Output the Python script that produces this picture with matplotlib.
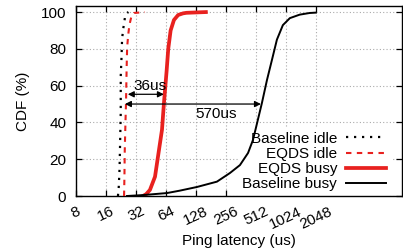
import matplotlib
matplotlib.use("Agg")
import matplotlib.pyplot as plt
from matplotlib.lines import Line2D

plt.rcParams['font.family'] = ['Liberation Sans', 'DejaVu Sans']

# ---- data ----
base_idle_x = [21.1, 21.5, 21.9, 22.2, 22.5, 22.5, 22.9, 23.2, 23.7, 24.8, 26.0, 26.9]
base_idle_y = [0, 5, 15, 30, 45, 65, 75, 85, 90, 97, 99.5, 100]

eqds_idle_x = [24.3, 24.5, 24.7, 25.1, 25.4, 25.8, 26.1, 26.8, 27.5, 28.9, 30.6, 39.4]
eqds_idle_y = [0, 10, 25, 40, 50, 70, 81, 88, 93, 98, 99.5, 100]

eqds_busy_x = [37.6, 40.5, 44.2, 49.7, 53.1, 58.4, 61.1, 65.0, 67.5, 71.3, 77.0, 84.8, 95.0, 103.0, 161.0]
eqds_busy_y = [0, 1, 3.3, 10.5, 21, 36, 50.5, 68, 80, 90, 95.7, 98.4, 99.3, 99.6, 100]

base_busy_x = [26.0, 37.6, 65.5, 88, 131, 208, 281, 354, 427, 478, 512, 588, 661, 742, 832, 955, 1122, 1409, 1774, 2048]
base_busy_y = [0, 0.5, 1.6, 2.9, 4.9, 7.8, 12.5, 16.8, 23.4, 30.4, 37, 50.5, 63, 74, 85, 92.9, 96.7, 98.6, 99.5, 99.7]

xticks = [8, 16, 32, 64, 128, 256, 512, 1024, 2048]
xticklabels = ['8', '16', '32', '64', '128', '256', '512', '1024', '2048']
yticks = [0, 20, 40, 60, 80, 100]

labels = ['Baseline idle', 'EQDS idle', 'EQDS busy', 'Baseline busy']
RED = '#e8211f'
FS = 11

fig = plt.figure(figsize=(4.03, 2.5), dpi=100)
ax = fig.add_axes([76/403, 1-196/250, 326/403, 190/250])

ax.set_xscale('log', base=2)
ax.set_xlim(8, 15000)
ax.set_ylim(0, 103.3)

l1, = ax.plot(base_idle_x, base_idle_y, color='black', lw=1.6, linestyle=(0, (1.0, 2.6)), zorder=3)
l2, = ax.plot(eqds_idle_x, eqds_idle_y, color=RED, lw=1.5, linestyle=(0, (2.6, 2.6)), zorder=3)
l3, = ax.plot(eqds_busy_x, eqds_busy_y, color=RED, lw=2.7, zorder=3)
l4, = ax.plot(base_busy_x, base_busy_y, color='black', lw=1.4, zorder=3)

ax.set_xticks(xticks)
ax.set_xticklabels(xticklabels, rotation=25, ha='center')
ax.minorticks_off()
ax.set_yticks(yticks)

ax.tick_params(axis='both', which='major', direction='in', length=4.5, width=0.9,
               top=True, right=True, labelsize=FS, colors='black')
ax.tick_params(axis='y', pad=7)
ax.tick_params(axis='x', pad=6)

ax.grid(True, color='#aaaaaa', linestyle=(0, (1, 2)), lw=0.8)
ax.set_axisbelow(True)
for s in ax.spines.values():
    s.set_linewidth(1.0)

ax.set_xlabel('Ping latency (us)', fontsize=FS, labelpad=2)
ax.set_ylabel('CDF (%)', fontsize=FS, labelpad=8)

# annotations
ax.annotate('', xy=(26.5, 55.3), xytext=(61.0, 55.3),
            arrowprops=dict(arrowstyle='<|-|>', color='black', lw=0.9, mutation_scale=9,
                            shrinkA=0, shrinkB=0), zorder=4)
ax.text(44.5, 55.8, '36us', ha='center', va='bottom', fontsize=FS, zorder=4)
ax.annotate('', xy=(24.8, 50.0), xytext=(575, 50.0),
            arrowprops=dict(arrowstyle='<|-|>', color='black', lw=0.9, mutation_scale=9,
                            shrinkA=0, shrinkB=0), zorder=4)
ax.text(206, 44.6, '570us', ha='center', va='center', fontsize=FS, zorder=4)

leg = ax.legend([l1, l2, l3, l4], labels, loc='lower right', bbox_to_anchor=(0.965, 0.0),
                markerfirst=False, frameon=True, fontsize=FS, handlelength=2.6,
                handletextpad=0.6, labelspacing=0.08, borderpad=0.3, borderaxespad=0)
leg.get_frame().set_facecolor('white')
leg.get_frame().set_edgecolor('none')
leg.get_frame().set_alpha(1.0)
leg.set_zorder(2)

fig.savefig('out.png', dpi=100)
